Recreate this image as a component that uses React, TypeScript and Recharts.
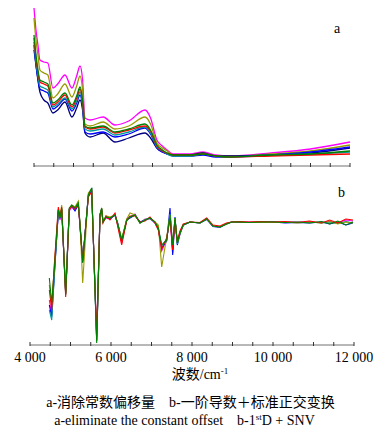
import React from 'react';
import { LineChart, Line, XAxis, YAxis } from 'recharts';

// panel a: spectra after constant offset removal
const wavenumbersA = [4000, 4050, 4100, 4150, 4250, 4350, 4480, 4600, 4785, 4960, 5080, 5165, 5230, 5290, 5420, 5750, 6050, 6400, 6810, 6950, 7110, 7250, 7370, 7520, 7950, 8280, 8600, 8960, 10000, 11000, 12000];
const magentaA = [1.58, 1.36, 1.21, 1.06, 1.04, 1.03, 0.78, 0.82, 0.91, 0.78, 0.90, 1.00, 0.86, 0.48, 0.46, 0.49, 0.41, 0.45, 0.56, 0.48, 0.26, 0.20, 0.16, 0.12, 0.12, 0.14, 0.11, 0.10, 0.13, 0.17, 0.24];
const oliveA = [1.48, 1.26, 1.11, 0.96, 0.93, 0.91, 0.68, 0.72, 0.82, 0.69, 0.80, 0.90, 0.76, 0.42, 0.40, 0.44, 0.37, 0.40, 0.49, 0.42, 0.23, 0.18, 0.15, 0.11, 0.11, 0.13, 0.10, 0.10, 0.12, 0.15, 0.21];
const greenA = [1.31, 1.11, 0.96, 0.86, 0.84, 0.82, 0.63, 0.66, 0.73, 0.61, 0.70, 0.79, 0.66, 0.40, 0.38, 0.40, 0.34, 0.37, 0.42, 0.36, 0.21, 0.16, 0.13, 0.11, 0.11, 0.12, 0.10, 0.09, 0.11, 0.12, 0.15];
const redA = [1.28, 1.08, 0.94, 0.84, 0.82, 0.80, 0.61, 0.64, 0.71, 0.59, 0.68, 0.77, 0.64, 0.39, 0.37, 0.39, 0.33, 0.36, 0.40, 0.35, 0.20, 0.15, 0.13, 0.11, 0.11, 0.12, 0.10, 0.09, 0.10, 0.11, 0.12];
const tealA = [1.24, 1.04, 0.90, 0.80, 0.78, 0.76, 0.59, 0.62, 0.68, 0.57, 0.65, 0.74, 0.61, 0.37, 0.35, 0.37, 0.31, 0.34, 0.39, 0.33, 0.19, 0.15, 0.12, 0.10, 0.10, 0.12, 0.10, 0.09, 0.11, 0.12, 0.14];
const blueA = [1.21, 1.01, 0.87, 0.77, 0.75, 0.73, 0.57, 0.60, 0.67, 0.55, 0.63, 0.71, 0.59, 0.34, 0.32, 0.34, 0.29, 0.32, 0.38, 0.32, 0.18, 0.14, 0.12, 0.10, 0.10, 0.11, 0.09, 0.09, 0.11, 0.14, 0.19];
const navyA = [1.16, 1.01, 0.86, 0.74, 0.66, 0.63, 0.53, 0.56, 0.64, 0.49, 0.58, 0.66, 0.56, 0.33, 0.29, 0.33, 0.24, 0.28, 0.33, 0.28, 0.18, 0.14, 0.12, 0.11, 0.11, 0.13, 0.10, 0.10, 0.11, 0.13, 0.18];

// panel b: first derivative + SNV
const wavenumbersB = [4477, 4536, 4600, 4699, 4741, 4783, 4881, 4970, 5030, 5111, 5193, 5235, 5301, 5440, 5523, 5647, 5728, 5770, 5802, 5877, 5975, 6099, 6173, 6264, 6388, 6469, 6593, 6716, 6840, 6963, 7086, 7168, 7252, 7375, 7457, 7523, 7580, 7637, 7704, 7785, 7951, 8197, 8363, 8518, 8691, 8850, 8980, 9185, 9400, 9700, 10000, 10300, 10600, 10900, 11200, 11400, 11600, 11800, 11975];
const magentaB = [-7.5, -9.0, -4.8, 1.2, 0.5, 1.5, -6.8, 1.4, 1.8, 1.5, 2.1, -0.1, -3.5, 2.9, 3.4, -11.2, 0.8, 1.6, 0.3, 0.7, 0.6, 1.1, -0.1, -1.8, 0.6, 0.8, 1.1, 0.2, 0.6, 0.6, 0.3, -0.4, -2.6, -1.4, 0.8, -2.8, 0.6, -1.7, -0.7, 0.0, 0.3, 0.2, 0.65, -0.1, -0.2, 0.15, 0.3, 0.3, 0.3, 0.3, 0.3, 0.3, 0.3, 0.3, 0.25, 0.35, 0.2, 0.5, 0.4];
const oliveB = [-6.0, -8.0, -4.2, 1.6, 0.8, 2.0, -6.8, 1.6, 2.0, 1.8, 2.4, 0.2, -5.8, 3.2, 3.6, -11.5, 1.0, 1.7, 0.3, 0.9, 0.8, 1.0, 0.0, -1.4, 0.6, 1.2, 1.0, 0.2, 0.5, 0.7, 0.3, 0.0, -4.2, -1.2, 1.0, -2.0, 0.7, -1.8, -0.8, 0.0, 0.3, 0.2, 0.6, -0.1, -0.2, 0.1, 0.3, 0.3, 0.25, 0.3, 0.25, 0.3, 0.2, 0.3, 0.2, 0.35, 0.1, 0.3, 0.2];
const redB = [-6.5, -8.5, -4.0, 1.8, 0.9, 1.8, -7.2, 1.5, 1.9, 1.6, 2.0, -0.2, -3.6, 2.8, 3.3, -11.0, 1.0, 1.5, 0.2, 0.9, 0.5, 1.2, -0.3, -2.0, 0.4, 0.9, 0.9, 0.3, 0.4, 0.8, 0.2, -0.5, -2.4, -1.3, 0.6, -2.5, 0.5, -1.6, -0.6, 0.1, 0.3, 0.25, 0.7, 0.0, -0.1, 0.2, 0.3, 0.35, 0.3, 0.35, 0.3, 0.35, 0.25, 0.4, 0.2, 0.5, 0.2, 0.6, 0.5];
const blueB = [-8.0, -9.2, -5.0, 1.3, 0.8, 1.6, -6.9, 1.6, 1.9, 1.4, 2.0, 0.1, -3.7, 2.9, 3.5, -11.5, 1.1, 1.6, 0.4, 0.8, 0.6, 1.0, 0.1, -1.6, 0.5, 0.7, 1.0, 0.3, 0.5, 0.7, 0.2, -0.4, -2.3, -1.6, 1.7, -3.0, 0.8, -2.0, -0.9, 0.0, 0.3, 0.2, 0.55, -0.15, -0.25, 0.1, 0.3, 0.25, 0.25, 0.25, 0.3, 0.2, 0.25, 0.2, 0.3, 0.1, 0.3, 0.0, 0.2];
const tealB = [-8.5, -9.5, -5.2, 1.4, 0.8, 1.6, -6.7, 1.6, 1.9, 1.6, 2.1, 0.0, -3.6, 3.0, 3.6, -11.6, 1.0, 1.6, 0.3, 0.8, 0.7, 1.0, 0.0, -1.5, 0.5, 0.8, 1.0, 0.2, 0.5, 0.7, 0.3, -0.3, -2.1, -1.5, 1.1, -2.2, 0.7, -1.9, -0.8, 0.0, 0.3, 0.2, 0.6, -0.1, -0.2, 0.1, 0.3, 0.3, 0.25, 0.25, 0.3, 0.25, 0.25, 0.3, 0.2, 0.3, 0.15, 0.35, 0.2];
const greenB = [-5.3, -7.8, -4.5, 1.5, 0.7, 1.7, -7.0, 1.7, 2.0, 1.7, 2.2, 0.0, -3.8, 3.0, 3.7, -11.8, 1.0, 1.7, 0.3, 0.8, 0.7, 1.0, 0.0, -1.5, 0.5, 0.8, 1.0, 0.2, 0.5, 0.7, 0.3, -0.3, -2.0, -1.5, 1.0, -2.0, 0.7, -1.8, -0.8, 0.0, 0.3, 0.2, 0.6, -0.1, -0.2, 0.1, 0.3, 0.3, 0.25, 0.3, 0.3, 0.25, 0.3, 0.2, 0.35, 0.1, 0.4, 0.0, 0.3];

const axisTicks = [4000, 4500, 5000, 5500, 6000, 6500, 7000, 7500, 8000, 8500, 9000, 9500, 10000, 10500, 11000, 11500, 12000];
const labelledTicks = [4000, 6000, 8000, 10000, 12000];

const seriesA = [
  { key: 'magenta', color: '#ff00ff', values: magentaA },
  { key: 'olive', color: '#9a9a00', values: oliveA },
  { key: 'navy', color: '#000080', values: navyA },
  { key: 'blue', color: '#0000ff', values: blueA },
  { key: 'teal', color: '#009999', values: tealA },
  { key: 'red', color: '#ff0000', values: redA },
  { key: 'green', color: '#008000', values: greenA },
];

const seriesB = [
  { key: 'magenta', color: '#ff00ff', values: magentaB },
  { key: 'blue', color: '#0000ff', values: blueB },
  { key: 'teal', color: '#009999', values: tealB },
  { key: 'olive', color: '#9a9a00', values: oliveB },
  { key: 'red', color: '#ff0000', values: redB },
  { key: 'green', color: '#008000', values: greenB },
];

function buildRows(xs: number[], series: { key: string; values: number[] }[]) {
  return xs.map((wn, i) => {
    const row: Record<string, number> = { wn };
    series.forEach((s) => { row[s.key] = s.values[i]; });
    return row;
  });
}

const rowsA = buildRows(wavenumbersA, seriesA);
const rowsB = buildRows(wavenumbersB, seriesB);

const serif = '"Liberation Serif", "Times New Roman", "Noto Sans CJK SC", serif';

function fmt(v: number) {
  const s = String(v);
  return s.slice(0, s.length - 3) + ' ' + s.slice(-3);
}

function AxisTick(props: any) {
  const { x, y, payload, showLabel } = props;
  const v = payload.value;
  const label = showLabel && labelledTicks.includes(v) ? fmt(v) : null;
  return (
    <g>
      <line x1={x} x2={x} y1={y - 3} y2={y + 1} stroke="#333" strokeWidth={1} />
      {label && (
        <text x={x} y={y + 17} textAnchor="middle" fontSize={14} fontFamily={serif} fill="#000">
          {label}
        </text>
      )}
    </g>
  );
}

const supStyle: React.CSSProperties = { fontSize: 9, position: 'relative', top: -5, lineHeight: 1, verticalAlign: 'baseline' };

export default function App() {
  return (
    <div style={{ position: 'absolute', left: 0, top: 0, width: 382, height: 433, background: '#fff', fontFamily: serif }}>
      {/* panel a */}
      <div style={{ position: 'absolute', left: 0, top: 0 }}>
        <LineChart width={382} height={180} data={rowsA} margin={{ top: 6, right: 32, bottom: 0, left: 34 }}>
          <XAxis
            dataKey="wn"
            type="number"
            domain={[4000, 12000]}
            ticks={axisTicks}
            interval={0}
            height={14}
            tickSize={0}
            tickMargin={0}
            tickLine={false}
            axisLine={{ stroke: '#a0a0a0', strokeWidth: 1.5 }}
            tick={(p: any) => <AxisTick {...p} showLabel={false} />}
          />
          <YAxis hide domain={[0, 1.6]} />
          {seriesA.map((s) => (
            <Line key={s.key} dataKey={s.key} type="monotone" stroke={s.color} strokeWidth={1.3} dot={false} isAnimationActive={false} />
          ))}
        </LineChart>
      </div>
      <div style={{ position: 'absolute', left: 334, top: 22, fontSize: 14, lineHeight: '14px' }}>a</div>

      {/* panel b */}
      <div style={{ position: 'absolute', left: 0, top: 170 }}>
        <LineChart width={382} height={200} data={rowsB} margin={{ top: 15, right: 28, bottom: 0, left: 30 }}>
          <XAxis
            dataKey="wn"
            type="number"
            domain={[4000, 12000]}
            ticks={axisTicks}
            interval={0}
            height={25}
            tickSize={0}
            tickMargin={0}
            tickLine={false}
            axisLine={{ stroke: '#a0a0a0', strokeWidth: 1.5 }}
            tick={(p: any) => <AxisTick {...p} showLabel />}
          />
          <YAxis hide domain={[-12, 4]} />
          {seriesB.map((s) => (
            <Line key={s.key} dataKey={s.key} type="linear" stroke={s.color} strokeWidth={1.1} dot={false} isAnimationActive={false} />
          ))}
        </LineChart>
      </div>
      <div style={{ position: 'absolute', left: 338, top: 186, fontSize: 14, lineHeight: '14px' }}>b</div>

      {/* axis title and captions */}
      <div style={{ position: 'absolute', left: 0, width: 400, top: 368, textAlign: 'center', fontSize: 14, lineHeight: '14px', whiteSpace: 'nowrap' }}>
        波数/cm<span style={supStyle}>-1</span>
      </div>
      <div style={{ position: 'absolute', left: 0, width: 381, top: 396, textAlign: 'center', fontSize: 14, lineHeight: '14px', whiteSpace: 'nowrap' }}>
        a-消除常数偏移量&nbsp;&nbsp;&nbsp;&nbsp;b-一阶导数＋标准正交变换
      </div>
      <div style={{ position: 'absolute', left: 0, width: 369, top: 414, textAlign: 'center', fontSize: 14, lineHeight: '14px', whiteSpace: 'nowrap' }}>
        a-eliminate the constant offset&nbsp;&nbsp;&nbsp;&nbsp;b-1<span style={supStyle}>st</span>D + SNV
      </div>
    </div>
  );
}
